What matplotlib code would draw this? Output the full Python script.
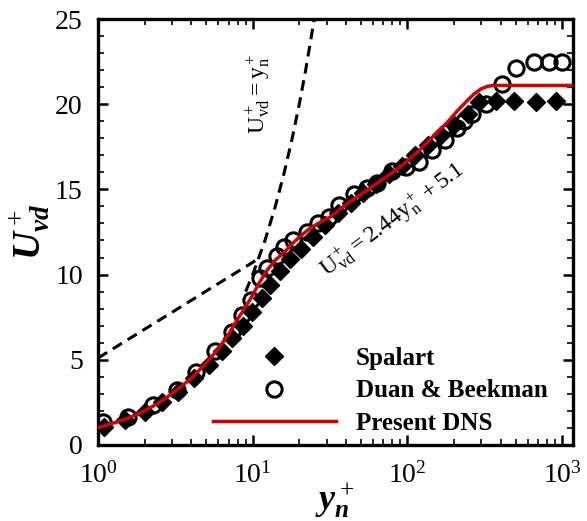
import matplotlib
matplotlib.use("Agg")
import matplotlib.pyplot as plt
from matplotlib.ticker import LogLocator, MultipleLocator, NullFormatter

plt.rcParams['font.family'] = ['Liberation Serif', 'DejaVu Serif']
plt.rcParams['mathtext.fontset'] = 'custom'
plt.rcParams['mathtext.rm'] = 'Liberation Serif'
plt.rcParams['mathtext.it'] = 'Liberation Serif:italic:bold'
plt.rcParams['mathtext.bf'] = 'Liberation Serif:bold'

# ---- data ----
dns_y = [1, 1.5, 2, 2.5, 3, 4, 5, 6, 7, 8, 9, 10, 11, 12.5, 14, 16, 18, 20, 23, 27, 32,
         40, 50, 60, 75, 95, 120, 150, 180, 210, 240, 270, 300, 330, 360, 1175]
dns_U = [1.0, 1.5, 2.0, 2.5, 3.0, 3.9, 4.8, 5.65, 6.5, 7.4, 8.1, 8.8, 9.5, 10.3, 10.85,
         11.3, 11.8, 12.2, 12.65, 13.05, 13.4, 14.1, 14.7, 15.2, 15.8, 16.5, 17.3, 18.2,
         18.9, 19.6, 20.15, 20.6, 20.9, 21.05, 21.1, 21.1]

spalart_y = [1.1, 1.5, 2.0, 2.6, 3.3, 4.2, 5.2, 6.3, 7.4, 8.6, 9.9, 11.4, 13.0, 15.0,
             17.5, 20.5, 24.5, 29.5, 35.5, 43, 52, 63, 76, 92, 112, 136, 165, 200, 245,
             290, 375, 490, 680, 915]
spalart_U = [1.05, 1.45, 1.95, 2.5, 3.1, 3.9, 4.7, 5.5, 6.3, 7.0, 7.8, 8.6, 9.4, 10.2,
             10.9, 11.5, 12.2, 12.9, 13.6, 14.2, 14.8, 15.3, 15.9, 16.4, 17.0, 17.6, 18.2,
             18.8, 19.4, 20.1, 20.2, 20.2, 20.1, 20.2]

duan_y = [1.08, 1.56, 2.26, 3.23, 4.3, 5.7, 7.3, 8.5, 9.8, 11.1, 12.3, 14.3, 16, 18.2,
          22.3, 26.5, 31.3, 36.3, 45, 55, 64, 80, 98, 119, 145, 175, 208, 233, 263, 323,
          410, 504, 661, 824, 1000]
duan_U = [1.35, 1.65, 2.35, 3.2, 4.3, 5.5, 6.6, 7.6, 8.5, 9.8, 10.4, 11.1, 11.6, 12.0,
          12.5, 13.0, 13.4, 14.1, 14.7, 15.1, 15.4, 16.1, 16.3, 16.6, 17.3, 17.9, 18.6,
          19.0, 19.4, 20.0, 21.2, 22.1, 22.5, 22.5, 22.5]

visc_y = [9, 10, 12, 14, 16, 18, 20, 22, 25]
visc_U = [9, 10, 12, 14, 16, 18, 20, 22, 25]
log_y = [1, 1.5, 2, 3, 4, 5, 7, 9, 11]
log_U = [5.1, 6.09, 6.79, 7.78, 8.48, 9.03, 9.85, 10.46, 10.95]

labels = ['Spalart', 'Duan & Beekman', 'Present DNS']

# ---- figure ----
fig = plt.figure(figsize=(5.87, 5.21), dpi=100)
ax = fig.add_axes([0.167, 0.146, 0.809, 0.8175])

ax.plot(visc_y, visc_U, ls=(0, (3.5, 2.2)), color='black', lw=2.2, zorder=2)
ax.plot(log_y, log_U, ls=(0, (3.5, 2.2)), color='black', lw=2.2, zorder=2)

h1, = ax.plot(spalart_y, spalart_U, ls='none', marker='D', ms=9, mfc='black',
              mec='black', zorder=3, label=labels[0])
h2, = ax.plot(duan_y, duan_U, ls='none', marker='o', ms=11, mfc='none',
              mec='black', mew=2.2, zorder=4, label=labels[1])
h3, = ax.plot(dns_y, dns_U, color='#d40000', lw=2.5, zorder=5, label=labels[2])

ax.set_xscale('log')
ax.set_xlim(1, 1175)
ax.set_ylim(0, 25)
ax.xaxis.set_major_locator(LogLocator(base=10, numticks=10))
ax.xaxis.set_minor_locator(LogLocator(base=10, subs=range(2, 10), numticks=20))
ax.xaxis.set_minor_formatter(NullFormatter())
ax.yaxis.set_major_locator(MultipleLocator(5))
ax.yaxis.set_minor_locator(MultipleLocator(1))

ax.tick_params(which='both', direction='in', top=True, right=True, labelsize=20,
               width=1.8, color='black')
ax.tick_params(which='major', length=7)
ax.tick_params(axis='y', which='major', pad=11)
ax.tick_params(axis='x', which='major', pad=12)
ax.tick_params(which='minor', length=4, width=1.2)
for s in ax.spines.values():
    s.set_linewidth(2.4)

ax.set_ylabel(r'$U^+_{vd}$', fontsize=28, labelpad=2)
ax.set_xlabel(r'$y^+_n$', fontsize=26, labelpad=-6)

ax.text(0.336, 0.825, r'$\mathrm{U^+_{vd}=y^+_n}$', transform=ax.transAxes,
        rotation=90, fontsize=17, ha='center', va='center')
ax.text(0.62, 0.53, r'$\mathrm{U^+_{vd}=2.44y^+_n+5.1}$', transform=ax.transAxes,
        rotation=37, fontsize=17, ha='center', va='center')

leg = ax.legend(handles=[h1, h2, h3], loc='center left',
                bbox_to_anchor=(0.195, 0.127), frameon=False, numpoints=1,
                handlelength=4.9, handletextpad=0.8, labelspacing=0.38,
                prop={'family': 'Liberation Serif', 'weight': 'bold', 'size': 18})

fig.savefig('out.png', dpi=100)
